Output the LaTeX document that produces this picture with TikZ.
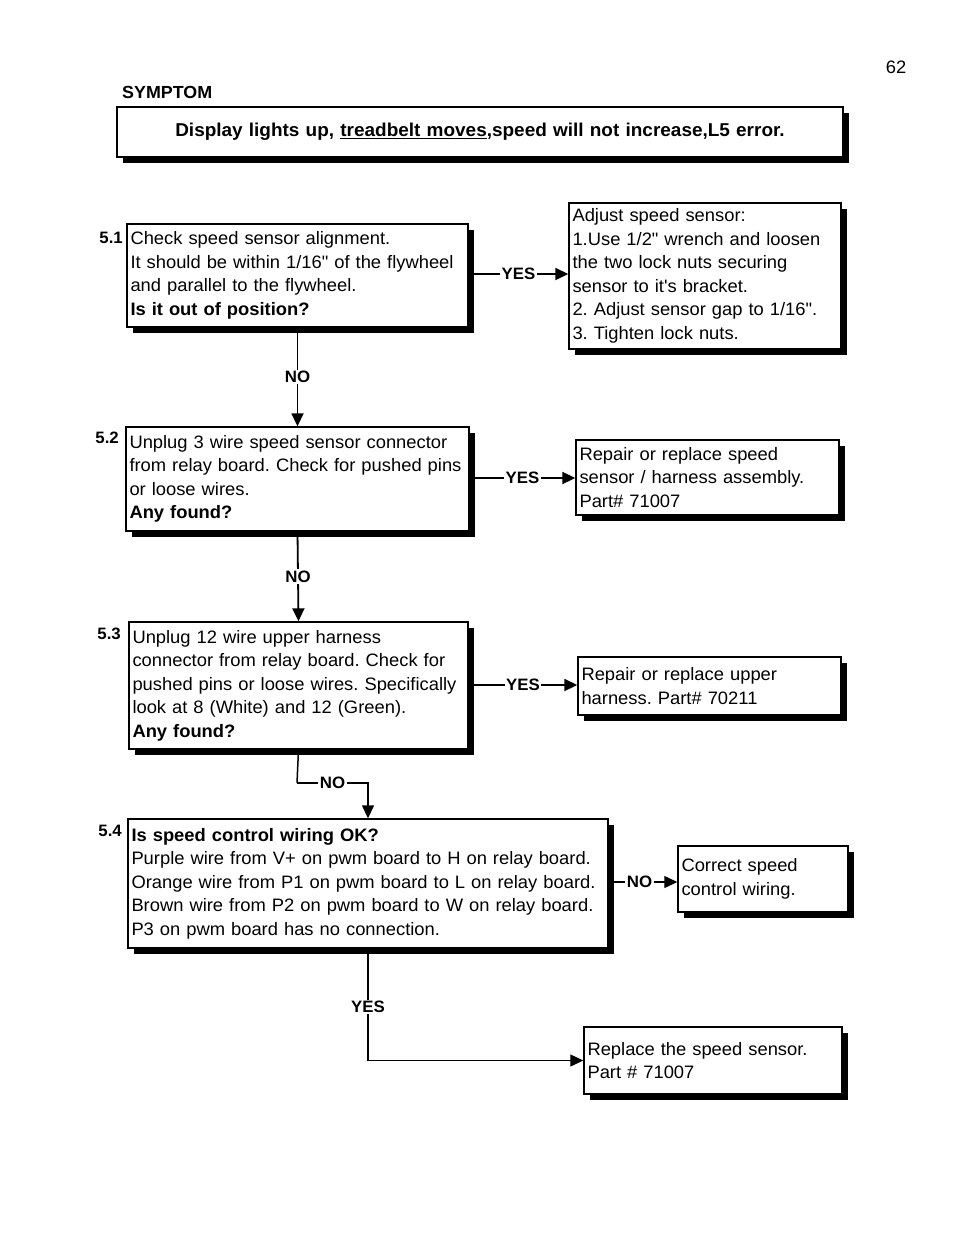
\documentclass[tikz,border=0pt]{standalone}
\usepackage{fontspec}
\setmainfont{Liberation Sans}[FakeStretch=1.02, Ligatures=TeXOff]
\usetikzlibrary{arrows.meta,shadows,positioning}
\begin{document}
\begin{tikzpicture}[x=1pt,y=-1pt,
  box/.style={draw, line width=1.4pt, fill=white, inner xsep=3.5pt, inner ysep=0pt,
    align=left, font=\fontsize{18}{23.5}\selectfont,
    execute at begin node={\frenchspacing\hyphenpenalty=10000\exhyphenpenalty=10000},
    drop shadow={shadow xshift=6pt, shadow yshift=-6pt, opacity=1, fill=black}},
  lbl/.style={font=\bfseries\fontsize{16.5}{18}\selectfont, fill=white, inner sep=1.5pt},
  num/.style={font=\bfseries\fontsize{16.5}{18}\selectfont, inner sep=0pt, anchor=east},
  conn/.style={line width=1.8pt, -{Triangle[length=13pt,width=12pt]}},
  thinconn/.style={line width=1.2pt, -{Triangle[length=13pt,width=12pt]}}
]
\useasboundingbox (0,0) rectangle (954,1235);

\node[font=\fontsize{18}{20}\selectfont] (page) at (896,67) {62};
\node[font=\bfseries\fontsize{17.5}{20}\selectfont, anchor=west, inner sep=0pt] (symlabel) at (122,92) {SYMPTOM};

\node[box, align=center, text width=719pt, minimum height=50pt, font=\bfseries\fontsize{18.6}{23.5}\selectfont] (sym) at (480,132)
  {Display lights up, \underline{treadbelt moves},speed will not increase,L5 error.};

\node[box, text width=334pt, minimum height=103pt] (b51) at (297.5,275.5)
  {Check speed sensor alignment.\\It should be within 1/16" of the flywheel\\and parallel to the flywheel.\\\textbf{Is it out of position?}};
\node[box, text width=265pt, minimum height=146pt] (adj) at (705,276)
  {Adjust speed sensor:\\1.Use 1/2" wrench and loosen\\the two lock nuts securing\\sensor to it's bracket.\\2. Adjust sensor gap to 1/16".\\3. Tighten lock nuts.};

\node[box, text width=336pt, minimum height=104pt] (b52) at (297.5,479)
  {Unplug 3 wire speed sensor connector\\from relay board. Check for pushed pins\\or loose wires.\\\textbf{Any found?}};
\node[box, text width=256pt, minimum height=75pt] (rep1) at (707.5,477.5)
  {Repair or replace speed\\sensor / harness assembly.\\Part\# 71007};

\node[box, text width=332pt, minimum height=127pt] (b53) at (298.5,685.5)
  {Unplug 12 wire upper harness\\connector from relay board. Check for\\pushed pins or loose wires. Specifically\\look at 8 (White) and 12 (Green).\\\textbf{Any found?}};
\node[box, text width=256pt, minimum height=58pt] (rep2) at (709.5,686)
  {Repair or replace upper\\harness. Part\# 70211};

\node[box, text width=473pt, minimum height=129pt] (b54) at (368,883.5)
  {\textbf{Is speed control wiring OK?}\\Purple wire from V+ on pwm board to H on relay board.\\Orange wire from P1 on pwm board to L on relay board.\\Brown wire from P2 on pwm board to W on relay board.\\P3 on pwm board has no connection.};
\node[box, text width=163pt, minimum height=66pt] (cor) at (763,879)
  {Correct speed\\control wiring.};
\node[box, text width=251pt, minimum height=67pt] (rep3) at (713,1060.5)
  {Replace the speed sensor.\\Part \# 71007};

\node[num] (n51) at (123,238) {5.1};
\node[num] (n52) at (119,438) {5.2};
\node[num] (n53) at (121,634) {5.3};
\node[num] (n54) at (122,831) {5.4};

\draw[conn] (b51.east |- 0,274) -- node[lbl] {YES} (adj.west |- 0,274);
\draw[conn] (b51.south) -- node[lbl] {NO} (b52.north);
\draw[conn] (b52.east |- 0,478) -- node[lbl] {YES} (rep1.west |- 0,478);
\draw[conn] (b52.south) -- node[lbl] {NO} (b53.north);
\draw[conn] (b53.east |- 0,685) -- node[lbl] {YES} (rep2.west |- 0,685);
\coordinate (c534) at (297,783);
\draw[line width=1.5pt] (b53.south) -- (c534);
\draw[conn, line width=1.4pt] (c534) -- node[lbl] {NO} (c534 -| b54.north) -- (b54.north);
\draw[thinconn] (b54.east |- 0,882) -- node[lbl, pos=0.45] {NO} (cor.west |- 0,882);
\draw[thinconn] (b54.south) |- node[lbl, pos=0.26] {YES} (rep3.west);
\end{tikzpicture}
\end{document}
